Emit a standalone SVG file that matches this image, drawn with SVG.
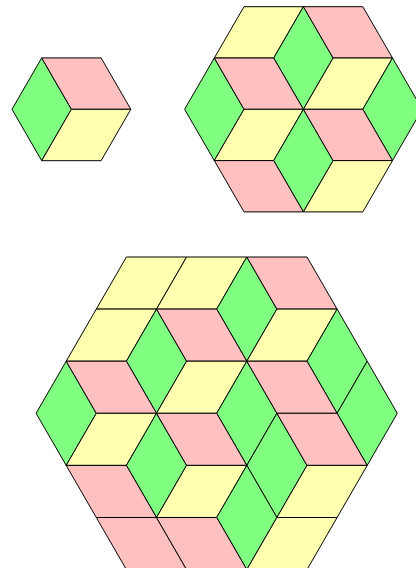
<svg xmlns="http://www.w3.org/2000/svg" width="416" height="568" viewBox="0 0 416 568">
<style>
polygon { stroke: #000; stroke-width: 1; stroke-linejoin: round; vector-effect: non-scaling-stroke; }
.g { fill: #80ff80; }
.p { fill: #ffc0c0; }
.y { fill: #ffffb0; }
</style>
<rect width="416" height="568" fill="#fff"/>
<g id="hex1" transform="translate(71.4,109.3) scale(29.7,51.4)">
<polygon class="g" points="-2,0 -1,-1 0,0 -1,1"/>
<polygon class="p" points="-1,-1 1,-1 2,0 0,0"/>
<polygon class="y" points="0,0 2,0 1,1 -1,1"/>
</g>
<g id="hex2" transform="translate(303.4,109.3) scale(29.7,51.3)">
<polygon class="y" points="-2,-2 0,-2 -1,-1 -3,-1"/>
<polygon class="g" points="0,-2 1,-1 0,0 -1,-1"/>
<polygon class="p" points="0,-2 2,-2 3,-1 1,-1"/>
<polygon class="g" points="-4,0 -3,-1 -2,0 -3,1"/>
<polygon class="p" points="-3,-1 -1,-1 0,0 -2,0"/>
<polygon class="y" points="1,-1 3,-1 2,0 0,0"/>
<polygon class="g" points="3,-1 4,0 3,1 2,0"/>
<polygon class="y" points="-2,0 0,0 -1,1 -3,1"/>
<polygon class="g" points="0,0 1,1 0,2 -1,1"/>
<polygon class="p" points="0,0 2,0 3,1 1,1"/>
<polygon class="p" points="-3,1 -1,1 0,2 -2,2"/>
<polygon class="y" points="1,1 3,1 2,2 0,2"/>
</g>
<g id="hex3" transform="translate(216.7,413.3) scale(30.1,52.1)">
<polygon class="y" points="-3,-3 -1,-3 -2,-2 -4,-2"/>
<polygon class="y" points="-1,-3 1,-3 0,-2 -2,-2"/>
<polygon class="g" points="1,-3 2,-2 1,-1 0,-2"/>
<polygon class="p" points="1,-3 3,-3 4,-2 2,-2"/>
<polygon class="y" points="-4,-2 -2,-2 -3,-1 -5,-1"/>
<polygon class="g" points="-2,-2 -1,-1 -2,0 -3,-1"/>
<polygon class="p" points="-2,-2 0,-2 1,-1 -1,-1"/>
<polygon class="y" points="2,-2 4,-2 3,-1 1,-1"/>
<polygon class="g" points="4,-2 5,-1 4,0 3,-1"/>
<polygon class="g" points="-6,0 -5,-1 -4,0 -5,1"/>
<polygon class="p" points="-5,-1 -3,-1 -2,0 -4,0"/>
<polygon class="y" points="-1,-1 1,-1 0,0 -2,0"/>
<polygon class="g" points="1,-1 2,0 1,1 0,0"/>
<polygon class="p" points="1,-1 3,-1 4,0 2,0"/>
<polygon class="g" points="5,-1 6,0 5,1 4,0"/>
<polygon class="y" points="-4,0 -2,0 -3,1 -5,1"/>
<polygon class="g" points="-2,0 -1,1 -2,2 -3,1"/>
<polygon class="p" points="-2,0 0,0 1,1 -1,1"/>
<polygon class="g" points="2,0 3,1 2,2 1,1"/>
<polygon class="p" points="2,0 4,0 5,1 3,1"/>
<polygon class="p" points="-5,1 -3,1 -2,2 -4,2"/>
<polygon class="y" points="-1,1 1,1 0,2 -2,2"/>
<polygon class="g" points="1,1 2,2 1,3 0,2"/>
<polygon class="y" points="3,1 5,1 4,2 2,2"/>
<polygon class="p" points="-4,2 -2,2 -1,3 -3,3"/>
<polygon class="p" points="-2,2 0,2 1,3 -1,3"/>
<polygon class="y" points="2,2 4,2 3,3 1,3"/>
</g>
</svg>
